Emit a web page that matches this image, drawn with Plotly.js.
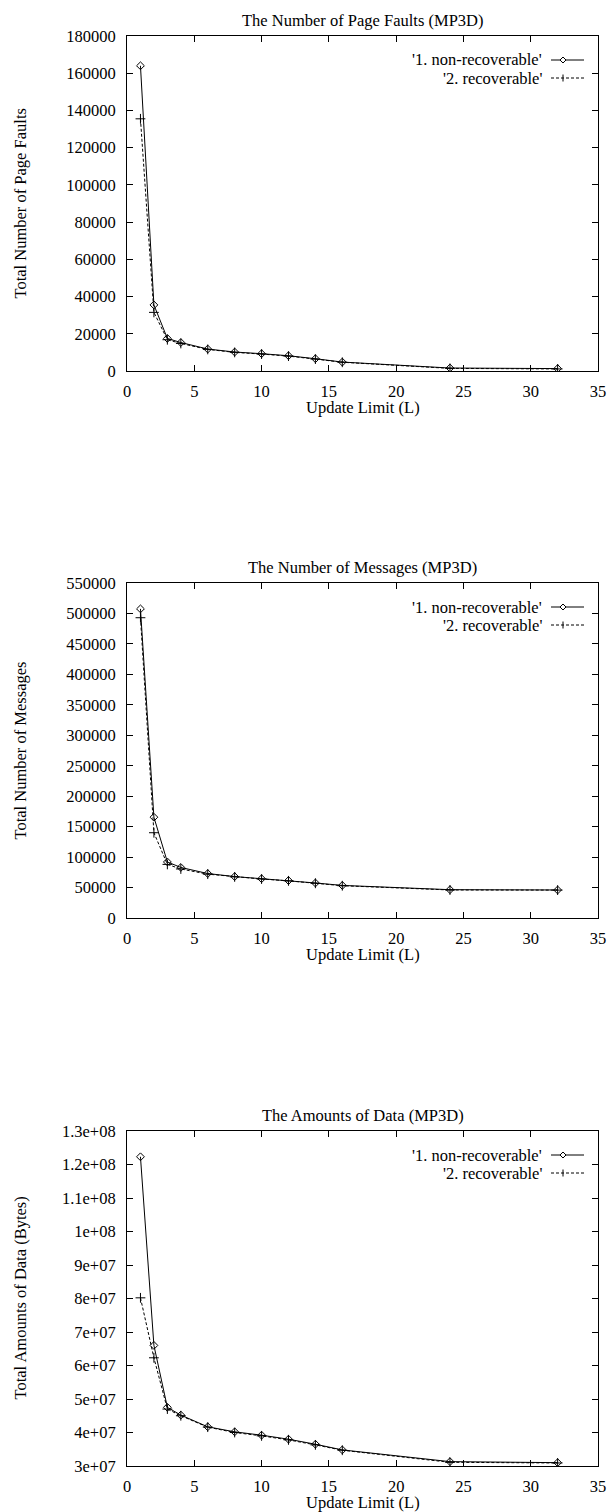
<!DOCTYPE html>
<html><head><meta charset="utf-8">
<script src="https://cdn.plot.ly/plotly-3.0.1.min.js"></script>
<style>html,body{margin:0;padding:0;background:#fff}#c{width:610px;height:1512px}</style>
</head><body><div id="c"></div>
<script>
// ---- data ----
const updateLimit = [1, 2, 3, 4, 6, 8, 10, 12, 14, 16, 24, 32];
const faultsNonRec = [164000, 35500, 17500, 15300, 11800, 10200, 9300, 8200, 6600, 4800, 1600, 1300];
const faultsRec    = [135500, 31500, 16800, 14800, 11600, 10000, 9100, 8000, 6400, 4700, 1400, 1100];
const msgsNonRec = [507500, 165500, 92000, 83000, 73000, 68000, 64500, 61500, 57500, 53500, 46500, 46000];
const msgsRec    = [493000, 140000, 88000, 80500, 72000, 67500, 64000, 61000, 57000, 53000, 46000, 45800];
const dataNonRec = [1.223e8, 6.6e7, 4.75e7, 4.52e7, 4.17e7, 4.02e7, 3.92e7, 3.8e7, 3.65e7, 3.48e7, 3.13e7, 3.1e7];
const dataRec    = [8.02e7, 6.23e7, 4.7e7, 4.5e7, 4.16e7, 4.0e7, 3.9e7, 3.78e7, 3.63e7, 3.47e7, 3.11e7, 3.09e7];
const seriesNames = ["'1. non-recoverable'", "'2. recoverable'"];
const chartTitles = ["The Number of Page Faults (MP3D)", "The Number of Messages (MP3D)", "The Amounts of Data (MP3D)"];
const yTitles = ["Total Number of Page Faults", "Total Number of Messages", "Total Amounts of Data (Bytes)"];
const xTitle = "Update Limit (L)";
const dataTickVals = [3e7, 4e7, 5e7, 6e7, 7e7, 8e7, 9e7, 1e8, 1.1e8, 1.2e8, 1.3e8];
const dataTickText = ["3e+07", "4e+07", "5e+07", "6e+07", "7e+07", "8e+07", "9e+07", "1e+08", "1.1e+08", "1.2e+08", "1.3e+08"];

// ---- layout geometry (pixels) ----
const W = 610, H = 1512;
const plotLeft = 127, plotRight = 598;
const plotTops = [36, 583, 1131], plotH = 335;
const px = x => x / W, py = y => 1 - y / H;
const FONT = '"Liberation Serif", "Times New Roman", serif';
const FS = 16.5;

const traces = [];
const sets = [[faultsNonRec, faultsRec], [msgsNonRec, msgsRec], [dataNonRec, dataRec]];
sets.forEach((s, i) => {
  const xa = i === 0 ? 'x' : 'x' + (i + 1), ya = i === 0 ? 'y' : 'y' + (i + 1);
  traces.push({x: updateLimit, y: s[0], xaxis: xa, yaxis: ya, mode: 'lines+markers', name: seriesNames[0],
    line: {color: '#000', width: 1}, marker: {symbol: 'diamond-open', size: 6, color: '#000', line: {width: 1}}, showlegend: false});
  traces.push({x: updateLimit, y: s[1], xaxis: xa, yaxis: ya, mode: 'lines+markers', name: seriesNames[1],
    line: {color: '#000', width: 1, dash: '3px,2px'}, marker: {symbol: 'cross-thin-open', size: 7, color: '#000', line: {width: 1, color: '#000'}}, showlegend: false});
});

const layout = {width: W, height: H, margin: {l: 0, r: 0, t: 0, b: 0}, paper_bgcolor: '#fff', plot_bgcolor: '#fff',
  font: {family: FONT, size: FS, color: '#000'}, showlegend: false, annotations: [], shapes: []};

const yRanges = [[0, 180000], [0, 550000], [3e7, 1.3e8]];
const yDticks = [20000, 50000, null];
plotTops.forEach((top, i) => {
  const sfx = i === 0 ? '' : String(i + 1);
  const common = {showline: true, linecolor: '#000', linewidth: 1, mirror: 'ticks', ticks: 'inside', ticklen: 6,
    tickcolor: '#000', showgrid: false, zeroline: false, fixedrange: true, tickfont: {family: FONT, size: FS, color: '#000'}};
  layout['xaxis' + sfx] = Object.assign({}, common, {domain: [px(plotLeft), px(plotRight)], range: [0, 35], tick0: 0, dtick: 5,
    anchor: 'y' + sfx, ticklabelstandoff: 5});
  const ya = Object.assign({}, common, {domain: [py(top + plotH), py(top)], range: yRanges[i], anchor: 'x' + sfx, ticklabelstandoff: 7});
  if (yDticks[i]) { ya.tick0 = 0; ya.dtick = yDticks[i]; ya.tickformat = 'd'; }
  else { ya.tickmode = 'array'; ya.tickvals = dataTickVals; ya.ticktext = dataTickText; }
  layout['yaxis' + sfx] = ya;

  // titles
  layout.annotations.push({text: chartTitles[i], xref: 'paper', yref: 'paper', x: px((plotLeft + plotRight) / 2), y: py(top - 16),
    xanchor: 'center', yanchor: 'middle', showarrow: false, font: {family: FONT, size: FS}});
  layout.annotations.push({text: xTitle, xref: 'paper', yref: 'paper', x: px((plotLeft + plotRight) / 2), y: py(top + plotH + 36),
    xanchor: 'center', yanchor: 'middle', showarrow: false, font: {family: FONT, size: FS}});
  layout.annotations.push({text: yTitles[i], xref: 'paper', yref: 'paper', x: px(20), y: py(top + plotH / 2), textangle: -90,
    xanchor: 'center', yanchor: 'middle', showarrow: false, font: {family: FONT, size: FS}});

  // legend (gnuplot style: text right-aligned, sample to the right)
  const rows = [top + 24, top + 42];
  rows.forEach((ry, k) => {
    layout.annotations.push({text: seriesNames[k], xref: 'paper', yref: 'paper', x: px(544), y: py(ry), xanchor: 'right', yanchor: 'middle',
      showarrow: false, font: {family: FONT, size: FS}});
    layout.shapes.push({type: 'line', xref: 'paper', yref: 'paper', x0: px(551), x1: px(584), y0: py(ry), y1: py(ry),
      line: {color: '#000', width: 1, dash: k === 0 ? 'solid' : '3px,2px'}});
    const cx = 563;
    if (k === 0) {
      layout.shapes.push({type: 'path', xref: 'paper', yref: 'paper',
        path: `M${px(cx)},${py(ry - 3)} L${px(cx + 3)},${py(ry)} L${px(cx)},${py(ry + 3)} L${px(cx - 3)},${py(ry)} Z`,
        fillcolor: '#fff', line: {color: '#000', width: 1}});
    } else {
      layout.shapes.push({type: 'line', xref: 'paper', yref: 'paper', x0: px(cx), x1: px(cx), y0: py(ry - 3.5), y1: py(ry + 3.5), line: {color: '#000', width: 1}});
    }
  });
});

Plotly.newPlot('c', traces, layout, {staticPlot: true, displayModeBar: false});
</script></body></html>
